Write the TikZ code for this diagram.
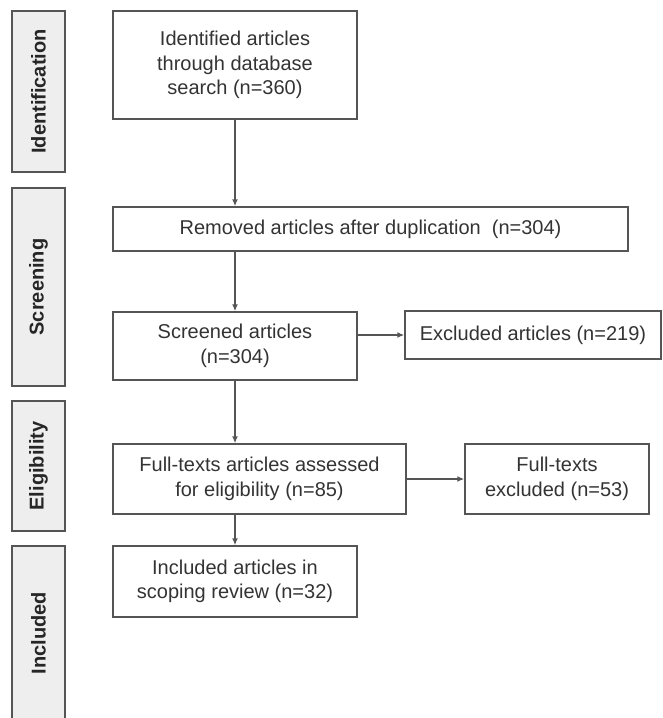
\documentclass[tikz,border=0pt]{standalone}
\usepackage{fontspec}
\setmainfont{Liberation Sans}
\usetikzlibrary{positioning, arrows.meta}
\definecolor{linegray}{HTML}{555555}
\definecolor{stagefill}{HTML}{EEEEEE}
\definecolor{textgray}{HTML}{333333}

\begin{document}
\begin{tikzpicture}[
  x=1pt, y=-1pt,
  line width=1.4pt,
  color=linegray,
  >={Latex[length=7pt,width=6pt]},
  mybox/.style={
    draw=linegray,
    text=textgray,
    align=center,
    inner sep=0pt,
    font=\fontsize{20}{24.5}\selectfont
    },
  stage/.style={
    draw=linegray,
    fill=stagefill,
    text=black!85,
    rotate=90,
    inner sep=0pt,
    minimum height=53pt,
    minimum width=#1,
    font=\bfseries\fontsize{20}{24}\selectfont
    }
]
\useasboundingbox (0,0) rectangle (663,718);

% stages on the left
\node[stage=161pt] (ident) at (38.5,91.5) {Identification};
\node[stage=198pt] (screen) at (38.5,287) {Screening};
\node[stage=130pt] (elig) at (38.5,466) {Eligibility};
\node[stage=174pt] (incl) at (38.5,633) {Included};

% flow boxes
\node[mybox, minimum width=244pt, minimum height=108pt] (found) at (235,65)
  {Identified articles\\through database\\search (n=360)};
\node[mybox, minimum width=515pt, minimum height=44pt] (dedup) at (370.5,229)
  {Removed articles after duplication~~(n=304)};
\node[mybox, minimum width=244pt, minimum height=68pt] (screened) at (235,346)
  {Screened articles\\(n=304)};
\node[mybox, minimum width=256pt, minimum height=48pt] (excl) at (533,335)
  {Excluded articles (n=219)};
\node[mybox, minimum width=293pt, minimum height=70pt] (fulltext) at (259.5,479)
  {Full-texts articles assessed\\for eligibility (n=85)};
\node[mybox, minimum width=184pt, minimum height=70pt] (ftexcl) at (557,479)
  {Full-texts\\excluded (n=53)};
\node[mybox, minimum width=244pt, minimum height=71pt] (review) at (235,581.5)
  {Included articles in\\scoping review (n=32)};

% arrows
\draw[->] (found.south) -- (found.south |- dedup.north);
\draw[->] (screened.north |- dedup.south) -- (screened.north);
\draw[->] (screened.south) -- (screened.south |- fulltext.north);
\draw[->] (screened.east |- excl.west) -- (excl.west);
\draw[->] (fulltext) -- (ftexcl);
\draw[->] (review.north |- fulltext.south) -- (review.north);

\end{tikzpicture}
\end{document}
